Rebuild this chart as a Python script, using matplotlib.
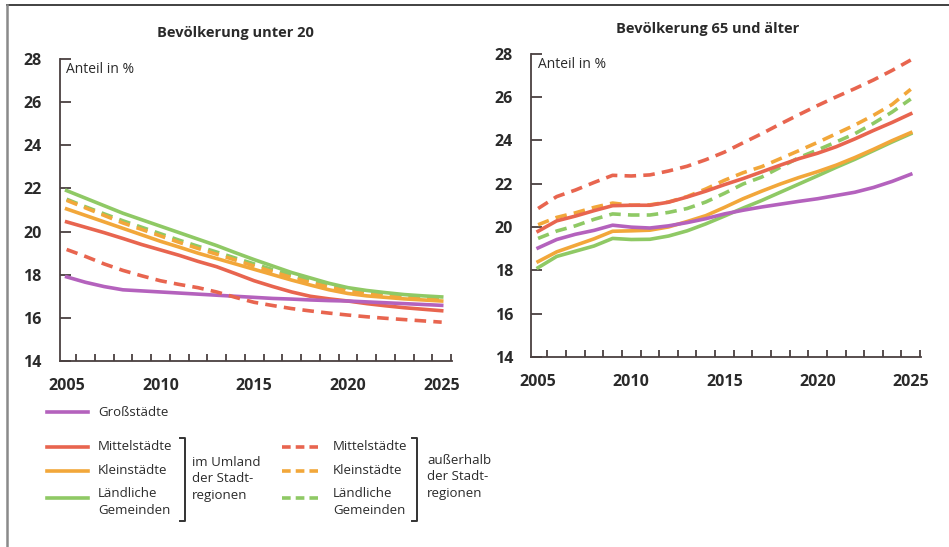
import matplotlib.pyplot as plt
from matplotlib.lines import Line2D
from matplotlib.ticker import FixedLocator

plt.rcParams['font.family'] = ['Open Sans', 'DejaVu Sans']

# Jahre
jahre = list(range(2005, 2026))

# Bevölkerung unter 20 (Anteil in %)
gross_u20 = [17.9, 17.65, 17.45, 17.3, 17.25, 17.2, 17.15, 17.1, 17.05, 17.0, 16.95,
             16.9, 16.87, 16.83, 16.8, 16.78, 16.74, 16.7, 16.66, 16.62, 16.58]
mittel_u20 = [20.45, 20.2, 19.95, 19.68, 19.4, 19.15, 18.9, 18.62, 18.37, 18.05, 17.72,
              17.45, 17.2, 17.0, 16.88, 16.78, 16.66, 16.56, 16.47, 16.4, 16.33]
klein_u20 = [21.05, 20.75, 20.45, 20.15, 19.85, 19.55, 19.28, 19.0, 18.75, 18.5, 18.25,
             18.0, 17.75, 17.52, 17.3, 17.13, 17.02, 16.95, 16.88, 16.83, 16.78]
laendl_u20 = [21.9, 21.55, 21.2, 20.85, 20.55, 20.25, 19.95, 19.65, 19.35, 19.02, 18.7,
              18.4, 18.1, 17.85, 17.6, 17.4, 17.27, 17.17, 17.08, 17.02, 16.97]
mittel_au_u20 = [19.17, 18.85, 18.5, 18.2, 17.95, 17.72, 17.55, 17.4, 17.2, 16.95, 16.72,
                 16.57, 16.43, 16.32, 16.22, 16.13, 16.05, 15.98, 15.92, 15.86, 15.8]
klein_au_u20 = [21.45, 21.1, 20.75, 20.4, 20.1, 19.8, 19.5, 19.22, 18.95, 18.68, 18.4,
                18.13, 17.87, 17.63, 17.42, 17.25, 17.12, 17.02, 16.94, 16.88, 16.83]
laendl_au_u20 = [21.5, 21.15, 20.82, 20.5, 20.2, 19.9, 19.6, 19.32, 19.05, 18.77, 18.5,
                 18.23, 17.97, 17.73, 17.52, 17.35, 17.21, 17.1, 17.01, 16.94, 16.88]

# Bevölkerung 65 und älter (Anteil in %)
gross_65 = [19.03, 19.42, 19.66, 19.84, 20.08, 19.99, 19.95, 20.05, 20.2, 20.38, 20.6,
            20.77, 20.92, 21.05, 21.18, 21.3, 21.45, 21.6, 21.82, 22.1, 22.43]
mittel_65 = [19.8, 20.28, 20.5, 20.75, 20.98, 21.0, 21.0, 21.14, 21.38, 21.65, 21.95,
             22.23, 22.54, 22.85, 23.15, 23.4, 23.7, 24.06, 24.45, 24.82, 25.22]
klein_65 = [18.4, 18.85, 19.15, 19.45, 19.8, 19.82, 19.85, 20.0, 20.25, 20.52, 20.9,
            21.3, 21.65, 21.98, 22.28, 22.55, 22.85, 23.2, 23.58, 23.98, 24.35]
laendl_65 = [18.12, 18.64, 18.88, 19.12, 19.47, 19.42, 19.43, 19.58, 19.82, 20.14, 20.5,
             20.87, 21.22, 21.6, 21.98, 22.36, 22.75, 23.12, 23.52, 23.92, 24.3]
mittel_au_65 = [20.85, 21.4, 21.7, 22.05, 22.38, 22.35, 22.4, 22.58, 22.8, 23.1, 23.45,
                23.88, 24.3, 24.75, 25.18, 25.6, 26.0, 26.38, 26.78, 27.22, 27.7]
klein_au_65 = [20.1, 20.44, 20.65, 20.9, 21.1, 21.0, 21.02, 21.15, 21.4, 21.75, 22.15,
               22.5, 22.78, 23.15, 23.52, 23.9, 24.3, 24.7, 25.15, 25.65, 26.35]
laendl_au_65 = [19.47, 19.81, 20.05, 20.35, 20.6, 20.55, 20.55, 20.67, 20.85, 21.15, 21.55,
                21.98, 22.3, 22.75, 23.2, 23.55, 23.92, 24.3, 24.78, 25.3, 25.9]

titel = ['Bevölkerung unter 20', 'Bevölkerung 65 und älter']
y_ticks = [14, 16, 18, 20, 22, 24, 26, 28]
x_labels = [2005, 2010, 2015, 2020, 2025]

lila = '#b462bd'
rot = '#e8654f'
orange = '#f2a73a'
gruen = '#8fc965'
dash = (3.2, 2.0)
lw = 2.6

fig = plt.figure(figsize=(9.49, 5.47), dpi=100)
W, H = 949, 547


def fx(px):
    return px / W


def fy(py):
    return 1 - py / H


ax1 = fig.add_axes([fx(59.5), fy(361), fx(452) - fx(59.5), fy(59) - fy(361)])
ax2 = fig.add_axes([fx(531), fy(357), fx(921) - fx(531), fy(53.5) - fy(357)])

daten = [
    (ax1, gross_u20, mittel_u20, klein_u20, laendl_u20, mittel_au_u20, klein_au_u20, laendl_au_u20),
    (ax2, gross_65, mittel_65, klein_65, laendl_65, mittel_au_65, klein_au_65, laendl_au_65),
]

for i, (ax, g, m, k, l, ma, ka, la) in enumerate(daten):
    ax.plot(jahre, la, color=gruen, lw=lw, dashes=dash)
    ax.plot(jahre, ka, color=orange, lw=lw, dashes=dash)
    ax.plot(jahre, l, color=gruen, lw=lw)
    ax.plot(jahre, k, color=orange, lw=lw)
    ax.plot(jahre, m, color=rot, lw=lw)
    ax.plot(jahre, g, color=lila, lw=lw)
    ax.plot(jahre, ma, color=rot, lw=lw, dashes=dash)

    ax.set_xlim(2004.62, 2025.55)
    ax.set_ylim(14, 28)
    for s in ['top', 'right']:
        ax.spines[s].set_visible(False)
    for s in ['left', 'bottom']:
        ax.spines[s].set_color('#4a4040')
        ax.spines[s].set_linewidth(1.3)

    ax.set_yticks(y_ticks)
    ax.tick_params(axis='y', direction='in', length=8, width=1.3, color='#4a4040',
                   pad=13, labelsize=11.5)
    ax.set_xticks(x_labels)
    ax.xaxis.set_minor_locator(FixedLocator([j + 0.5 for j in jahre]))
    ax.tick_params(axis='x', which='major', length=0, pad=12, labelsize=11.5)
    ax.tick_params(axis='x', which='minor', direction='in', length=5, width=1.3,
                   color='#4a4040')
    for t in ax.get_xticklabels() + ax.get_yticklabels():
        t.set_fontweight('bold')
        t.set_color('#2a2a2a')

    ax.text(0.017, 0.965, 'Anteil in %', transform=ax.transAxes, fontsize=10,
            va='center', ha='left', color='#2a2a2a')

fig.text(fx(235), fy(33), titel[0], ha='center', va='center', fontsize=10.5,
         fontweight='bold', color='#2a2a2a')
fig.text(fx(708), fy(29), titel[1], ha='center', va='center', fontsize=10.5,
         fontweight='bold', color='#2a2a2a')

# Rahmen oben und links
fig.add_artist(Line2D([fx(7), 1], [fy(5), fy(5)], color='#333333', lw=1.3))
fig.add_artist(Line2D([fx(7), fx(7)], [fy(5), 0], color='#8a8a8a', lw=1.8))

# Legende
txt = dict(fontsize=9.5, va='center', ha='left', color='#2a2a2a', linespacing=1.35)
fig.add_artist(Line2D([fx(47), fx(88)], [fy(412), fy(412)], color=lila, lw=lw))
fig.text(fx(98), fy(412), 'Großstädte', **txt)

zeilen = [('Mittelstädte', rot, 447, 447), ('Kleinstädte', orange, 471, 471),
          ('Ländliche\nGemeinden', gruen, 498, 502)]
for name, farbe, yl, yt in zeilen:
    fig.add_artist(Line2D([fx(47), fx(88)], [fy(yl), fy(yl)], color=farbe, lw=lw))
    fig.text(fx(98), fy(yt), name, **txt)
    fig.add_artist(Line2D([fx(282), fx(318)], [fy(yl), fy(yl)], color=farbe, lw=lw,
                          dashes=(2.4, 1.4)))
    fig.text(fx(333), fy(yt), name, **txt)

for bx in [185, 417]:
    fig.add_artist(Line2D([fx(bx - 5), fx(bx), fx(bx), fx(bx - 5)],
                          [fy(438), fy(438), fy(521), fy(521)], color='#333333', lw=1.4))
fig.text(fx(192), fy(479), 'im Umland\nder Stadt-\nregionen', **txt)
fig.text(fx(427), fy(477), 'außerhalb\nder Stadt-\nregionen', **txt)

fig.savefig('out.png', dpi=100)
